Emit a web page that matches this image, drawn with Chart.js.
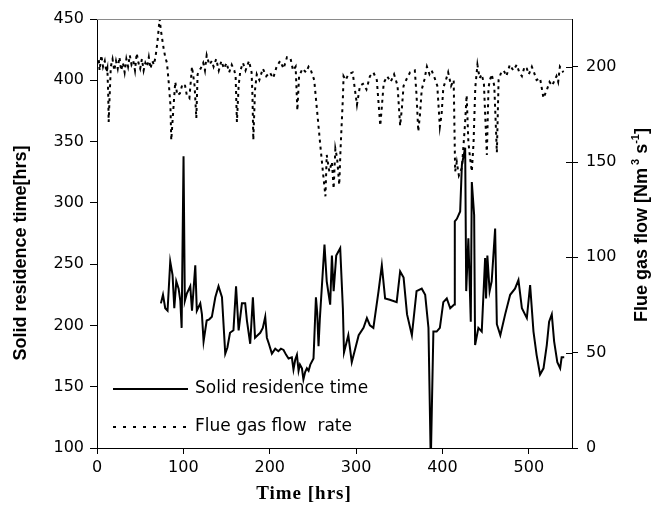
<!DOCTYPE html>
<html>
<head>
<meta charset="utf-8">
<script src="https://cdn.jsdelivr.net/npm/chart.js@4"></script>
<style>
  body { margin: 0; background: #fff; }
  #wrap { width: 654px; height: 507px; }
</style>
</head>
<body>
<div id="wrap"><canvas id="myChart" width="654" height="507"></canvas></div>
<script>
// solid residence time [hrs] vs time [hrs]
const solidTime = [74, 76.4, 79, 81.7, 84.8, 87.5, 89.5, 91.8, 94.5, 96.5,
  98, 100.2, 101.7, 104, 108, 110, 113.8, 115.6, 119.6, 121.5,
  123.4, 127, 130, 133, 137, 140.7, 144.7, 148.5, 151, 154,
  158, 161, 164, 167.8, 171.6, 173.6, 177.4, 180.5, 183, 186,
  189, 192, 194.8, 196.7, 199, 202.5, 206.4, 210, 213, 216,
  219, 221.8, 225.6, 227.5, 229.5, 231.5, 233.4, 235, 237.3, 239,
  241, 243, 245, 247, 250.7, 253.5, 255, 256.5, 258, 260.4,
  263.4, 266, 270, 272, 274, 277, 281.6, 284.7,
  286, 291, 295, 299, 303, 308.6, 312.5, 316, 320, 326,
  329.8, 333.6, 339, 347, 351, 355, 359, 364.6, 370, 376,
  380, 383.8, 386.2, 386.8, 389.5, 393.3, 397, 401, 405, 409,
  413.6, 414.3, 416.7, 420.5, 422.5, 426.3, 427.5, 430, 432.8, 434,
  436.7, 437.8, 441.6, 445.5, 449.4, 450.5, 452, 454.6, 457, 461,
  463, 467, 472.6, 478.4, 484, 488, 492, 497.7, 501.5, 505.4,
  509, 513, 517, 520.8, 523.5, 526.6, 529.3, 533, 536.3, 538,
  541];
const solidResidence = [218, 225, 214, 212, 252, 241, 214, 236, 230, 220,
  198, 338, 220, 226, 232, 212, 249, 212, 218, 209,
  187, 204, 205, 207, 223, 232, 223, 177, 182, 194,
  196, 232, 196, 218, 218, 204, 185, 223, 190, 192,
  194, 198, 207, 190, 185, 177, 181, 179, 181, 180,
  176, 173, 174, 164, 172, 176, 163, 168, 165, 156,
  162, 165, 163, 168, 173, 223, 210, 183, 205, 232,
  266, 236, 217, 257, 228, 257, 263, 214,
  178, 192, 170, 181, 192, 198, 206, 200, 198, 228,
  249, 222, 221, 219, 244, 239, 209, 192, 228, 230,
  225, 198, 100, 100, 195, 195, 198, 219, 222, 214,
  217, 285, 287, 293, 331, 345, 228, 271, 203, 317,
  290, 184, 198, 195, 255, 222, 257, 228, 236, 279,
  201, 192, 209, 225, 230, 237, 214, 206, 233, 195,
  176, 160, 165, 184, 203, 209, 187, 170, 165, 174,
  174];

// flue gas flow [Nm3 s-1] vs time [hrs]
const flueTime = [0, 2, 3, 5, 7, 9, 11, 12, 13, 13.5,
  14.5, 16, 18, 20, 22, 24, 26, 28, 30, 32,
  34, 36, 38, 40, 42, 44, 46, 48, 50, 52,
  54, 56, 58, 60, 62, 64, 66, 68, 70, 72.5,
  74, 77, 79, 81, 83, 85, 86, 88, 90.6, 93,
  96, 99, 102, 104, 107, 110, 113, 115, 116.5, 120,
  123, 125, 127, 130, 133, 135, 138, 141, 144, 147,
  150, 153, 156, 159, 160.5, 162, 164, 166, 169, 172,
  176, 179, 180, 181, 183, 185, 188, 192, 196, 200,
  204, 208, 212, 216, 220, 224, 227, 230, 232, 234,
  238, 242, 245, 247, 251.5, 254.6, 258.5, 262, 264.5, 266,
  269, 272, 274, 276, 278, 280.5, 282, 284.7, 285.5, 288,
  291, 296, 301, 304.5, 308, 312, 316, 320, 324, 328,
  330, 332, 336, 340, 344, 348, 351, 353, 355, 359,
  362.5, 368, 370, 372, 374, 376, 379, 382, 385, 387.5,
  391, 394, 397, 399, 401, 404, 406.6, 410, 413, 414.7,
  416.6, 419, 422.5, 426, 428, 430, 432, 434, 436, 438,
  440.5, 443, 445.5, 448, 451.4, 453.3, 455, 457, 460, 463,
  465, 468, 471, 474, 478, 482, 486, 489, 492, 495,
  497.7, 500, 503.5, 506, 509, 513, 517, 521, 524, 527,
  530, 532, 534, 536, 540];
const flueGas = [201, 204, 198, 206, 200, 203, 197, 199, 185, 171,
  183, 200, 204, 198, 203, 199, 205, 198, 202, 197,
  204, 200, 206, 201, 203, 198, 207, 202, 199, 204,
  198, 202, 200, 205, 199, 203, 201, 206, 213, 225,
  219, 210, 205, 202, 192, 180, 161.5, 175, 192, 185,
  186, 191, 190, 185, 183.5, 200, 190, 173, 196, 199,
  202, 198, 206, 201, 203, 200, 204, 198, 203, 199,
  202, 197, 201, 198, 195, 171, 190, 198, 202, 198,
  203, 197, 185, 161.5, 188, 196, 193, 199, 195, 197,
  194, 200, 203, 199, 205, 204.5, 198, 200, 177, 195,
  199, 197, 200, 199, 193, 178, 159, 143, 132, 153.7,
  145, 150, 136, 157, 152, 138, 157, 183.5, 195, 193,
  196, 197, 180, 190, 191, 188, 195, 197, 193, 169,
  180, 191.5, 195, 192, 196, 190, 169, 178, 190, 194,
  197, 198, 185, 166, 175, 188, 193, 200, 196, 198,
  194, 190, 168.5, 175, 189, 193, 197, 190, 193, 145,
  150, 143, 147, 169, 185, 160.6, 152, 145, 160, 189,
  201, 194, 196, 191, 153.7, 189, 193, 196, 190, 155,
  193, 197, 198, 195, 201, 198, 201, 197, 195, 200,
  199, 196, 200, 197, 193, 194, 183.5, 188, 192, 190,
  193, 195, 192, 200, 197];

const timeTicks = [0, 100, 200, 300, 400, 500];
const leftTicks = [100, 150, 200, 250, 300, 350, 400, 450];
const rightTicks = [0, 50, 100, 150, 200];

const seriesNames = ["Solid residence time", "Flue gas flow  rate"];
const leftTitle = "Solid residence time[hrs]";
const bottomTitle = "Time [hrs]";

const tickFont = { family: "'DejaVu Sans', sans-serif", size: 16 };

function toPoints(xs, ys) {
  return xs.map((x, i) => ({ x: x, y: ys[i] }));
}

function setTicks(values) {
  return function (axis) {
    axis.ticks = values.map((v) => ({ value: v }));
  };
}

const extrasPlugin = {
  id: "extras",
  afterDraw(chart) {
    const ctx = chart.ctx;
    const area = chart.chartArea;
    ctx.save();

    // gray frame on top
    ctx.strokeStyle = "#8a8a8a";
    ctx.lineWidth = 1;
    ctx.beginPath();
    ctx.moveTo(area.left, area.top + 0.5);
    ctx.lineTo(area.right, area.top + 0.5);
    ctx.stroke();

    // right axis ticks also go inside
    const y1 = chart.scales.y1;
    ctx.strokeStyle = "#000";
    ctx.beginPath();
    for (const v of rightTicks) {
      const py = Math.round(y1.getPixelForValue(v)) + 0.5;
      ctx.moveTo(area.right - 6, py);
      ctx.lineTo(area.right, py);
    }
    ctx.stroke();

    // legend in the plot
    const rows = [389, 427];
    const legendDash = [[], [3, 7]];
    chart.data.datasets.forEach((ds, i) => {
      ctx.beginPath();
      ctx.strokeStyle = ds.borderColor;
      ctx.lineWidth = ds.borderWidth;
      ctx.setLineDash(legendDash[i]);
      ctx.moveTo(113, rows[i]);
      ctx.lineTo(188, rows[i]);
      ctx.stroke();
      ctx.setLineDash([]);
      ctx.fillStyle = "#000";
      ctx.font = "17px 'DejaVu Sans', sans-serif";
      ctx.textAlign = "left";
      ctx.textBaseline = "middle";
      ctx.fillText(ds.label, 195, rows[i]);
    });

    // left title
    ctx.fillStyle = "#000";
    ctx.font = "bold 18px 'Liberation Sans', Arial, sans-serif";
    ctx.textAlign = "center";
    ctx.textBaseline = "middle";
    ctx.save();
    ctx.translate(21, 253);
    ctx.rotate(-Math.PI / 2);
    ctx.fillText(leftTitle, 0, 0);
    ctx.restore();

    // right title with superscripts
    const parts = [
      { t: "Flue gas flow [Nm", sup: false },
      { t: " 3", sup: true },
      { t: " s", sup: false },
      { t: "-1", sup: true },
      { t: "]", sup: false },
    ];
    const big = "bold 18px 'Liberation Sans', Arial, sans-serif";
    const small = "bold 11px 'Liberation Sans', Arial, sans-serif";
    let total = 0;
    for (const p of parts) {
      ctx.font = p.sup ? small : big;
      total += ctx.measureText(p.t).width;
    }
    ctx.save();
    ctx.translate(642, 225);
    ctx.rotate(-Math.PI / 2);
    ctx.textAlign = "left";
    ctx.textBaseline = "middle";
    let px = -total / 2;
    for (const p of parts) {
      ctx.font = p.sup ? small : big;
      ctx.fillText(p.t, px, p.sup ? -6 : 0);
      px += ctx.measureText(p.t).width;
    }
    ctx.restore();

    // bottom title
    ctx.font = "bold 19px 'Liberation Serif', 'Times New Roman', serif";
    ctx.letterSpacing = "1px";
    ctx.textAlign = "center";
    ctx.textBaseline = "middle";
    ctx.fillText(bottomTitle, 304, 494);

    ctx.restore();
  },
};

const data = {
  datasets: [
    {
      label: seriesNames[0],
      data: toPoints(solidTime, solidResidence),
      borderColor: "#000",
      borderWidth: 2,
      pointRadius: 0,
      tension: 0,
      yAxisID: "y",
    },
    {
      label: seriesNames[1],
      data: toPoints(flueTime, flueGas),
      borderColor: "#000",
      borderWidth: 2,
      borderDash: [3, 4],
      pointRadius: 0,
      tension: 0,
      yAxisID: "y1",
    },
  ],
};

const config = {
  type: "line",
  data,
  options: {
    responsive: false,
    animation: false,
    layout: { padding: { top: 19, left: 0, right: 0, bottom: 0 } },
    plugins: { legend: { display: false }, tooltip: { enabled: false } },
    scales: {
      x: {
        type: "linear",
        min: 0,
        max: 550,
        afterBuildTicks: setTicks(timeTicks),
        afterFit(scale) { scale.height = 59; },
        border: { color: "#000", width: 1 },
        grid: { drawOnChartArea: false, drawTicks: true, tickLength: 6, color: "#000" },
        ticks: { color: "#000", font: tickFont, padding: 4, maxRotation: 0, autoSkip: false },
      },
      y: {
        position: "left",
        min: 100,
        max: 450,
        afterBuildTicks: setTicks(leftTicks),
        afterFit(scale) { scale.width = 97; },
        border: { color: "#000", width: 1 },
        grid: { drawOnChartArea: false, drawTicks: true, tickLength: 7, color: "#000" },
        ticks: { color: "#000", font: tickFont, padding: 6, autoSkip: false },
      },
      y1: {
        position: "right",
        min: 0,
        max: 225,
        afterBuildTicks: setTicks(rightTicks),
        afterFit(scale) { scale.width = 82; },
        border: { color: "#000", width: 1 },
        grid: { drawOnChartArea: false, drawTicks: true, tickLength: 6, color: "#000" },
        ticks: { color: "#000", font: tickFont, padding: 8, autoSkip: false },
      },
    },
  },
  plugins: [extrasPlugin],
};

const myChart = document.getElementById("myChart");
window.chart = new Chart(myChart, config);
</script>
</body>
</html>
